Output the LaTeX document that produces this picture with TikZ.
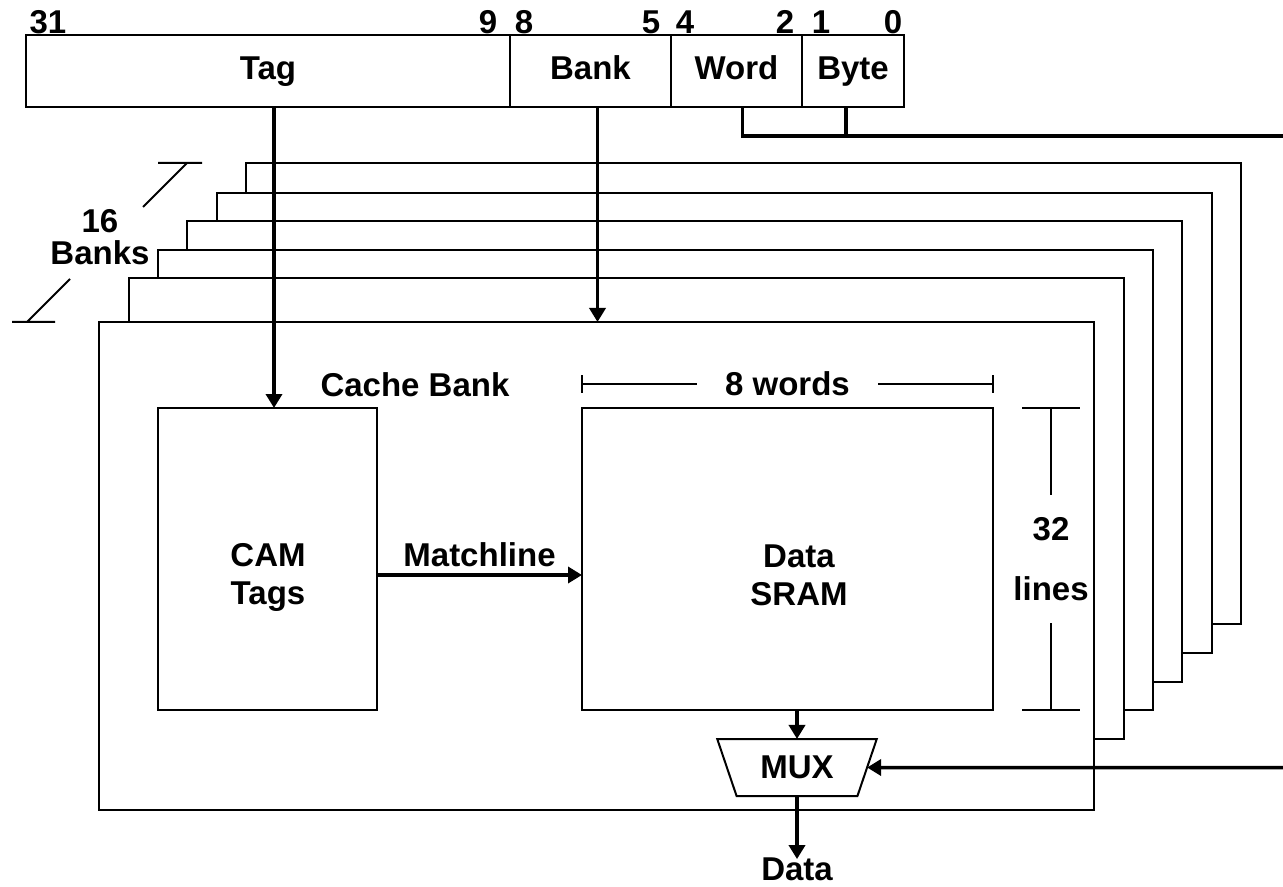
\documentclass[tikz,border=0pt]{standalone}
\usepackage{fontspec}
\setmainfont{Liberation Sans}
\usetikzlibrary{shapes.geometric, arrows.meta, positioning}
\newcommand{\lbl}{\fontsize{16.5}{19}\selectfont\bfseries}
\tikzstyle{field} = [rectangle, draw=black, line width=1pt, outer sep=0pt, inner sep=0pt, minimum height=36pt, text height=12pt, text depth=3.5pt, font=\lbl]
\tikzstyle{block} = [rectangle, draw=black, line width=1pt, outer sep=0pt, inner sep=0pt]
\tikzstyle{frame} = [draw=black, fill=white, line width=1pt]
\tikzstyle{dimline} = [line width=1pt]
\tikzstyle{arrow} = [line width=1.75pt, -{Triangle[width=8pt,length=7pt]}]
\tikzstyle{bus} = [line width=1.75pt]

\begin{document}
\begin{tikzpicture}[x=0.5pt, y=-0.5pt, every node/.style={font=\lbl}]
  \useasboundingbox (0,0) rectangle (1283,887);

  % Adresse
  \node[field, minimum width=242pt] (tagf) at (268,71) {Tag};
  \node[field, minimum width=80.5pt, right=0pt of tagf] (bankf) {Bank};
  \node[field, minimum width=65.5pt, right=0pt of bankf] (wordf) {Word};
  \node[field, minimum width=51pt, right=0pt of wordf] (bytef) {Byte};

  % Bitnummern
  \node (b31) at (48,22) {31};
  \node (b9) at (488,22) {9};
  \node (b8) at (524,22) {8};
  \node (b5) at (651,22) {5};
  \node (b4) at (685,22) {4};
  \node (b2) at (785,22) {2};
  \node (b1) at (821,22) {1};
  \node (b0) at (893,22) {0};

  % Bänke dahinter
  \foreach \l/\t/\r/\b in {246/163/1241/624, 217/193/1212/653, 187/221/1182/682, 158/250/1153/710, 129/278/1124/739}
    \draw[frame] (\l,\t) rectangle (\r,\b);

  % Vordere Bank
  \node[block, fill=white, minimum width=497.5pt, minimum height=244pt] (bank) at (596.5,566) {};
  \node (cbl) at (415,385) {Cache Bank};

  \node[block, minimum width=109.5pt, minimum height=151pt] (cam) at (267.5,559) {};
  \node[align=center] (camtxt) at (268,577) {CAM\\Tags};

  \node[block, minimum width=205.5pt, minimum height=151pt] (sram) at (787.5,559) {};
  \node[align=center] (sramtxt) at (799,575) {Data\\SRAM};

  \node[trapezium, draw=black, line width=1pt, trapezium stretches=true, trapezium left angle=63, trapezium right angle=63, shape border rotate=180, minimum width=80pt, minimum height=28.5pt, inner sep=0pt, outer sep=0pt] (mux) at (797,767.5) {MUX};
  \node[inner sep=1pt] (dout) at (797,869) {Data};

  % 16 Banks
  \node[align=center] (nb) at (100,237) {16\\[-3pt]Banks};
  \draw[dimline] (143,207) -- (187,163) (158,163) -- (202,163);
  \draw[dimline] (27,322) -- (70,279) (12,322) -- (55,322);

  % Masse
  \draw[dimline] (582,375) -- (582,393) (993,375) -- (993,393);
  \draw[dimline] (582,384) -- node[fill=white, inner xsep=14pt] (w8) {8 words} (993,384);
  \draw[dimline] (1022,408) -- (1080,408) (1022,710) -- (1080,710);
  \draw[dimline] (1051,408) -- node[fill=white, align=center, inner xsep=0pt, inner ysep=11pt] (l32) {32\\[11pt]lines} (1051,710);

  % Pfeile
  \draw[arrow] ([xshift=3pt]tagf.south) -- ([xshift=3pt]tagf.south |- cam.north);
  \draw[arrow] ([xshift=3.5pt]bankf.south) -- ([xshift=3.5pt]bankf.south |- bank.north);
  \draw[arrow] ([yshift=-8pt]cam.east) -- node[above] (mlbl) {Matchline} ([yshift=-8pt]cam.east -| sram.west);
  \draw[arrow] (mux.north |- sram.south) -- (mux.north);
  \draw[arrow] (mux.south) -- ([yshift=-2pt]mux.south |- dout.north);

  \coordinate (selin) at (1283,767.5);
  \draw[arrow] (selin) -- (mux.east);

  \coordinate (wsel) at (1283,136);
  \draw[bus] ([xshift=3pt]wordf.south) |- (wsel);
  \draw[bus] ([xshift=-3.5pt]bytef.south) -- ([xshift=-3.5pt]bytef.south |- wsel);
\end{tikzpicture}
\end{document}
